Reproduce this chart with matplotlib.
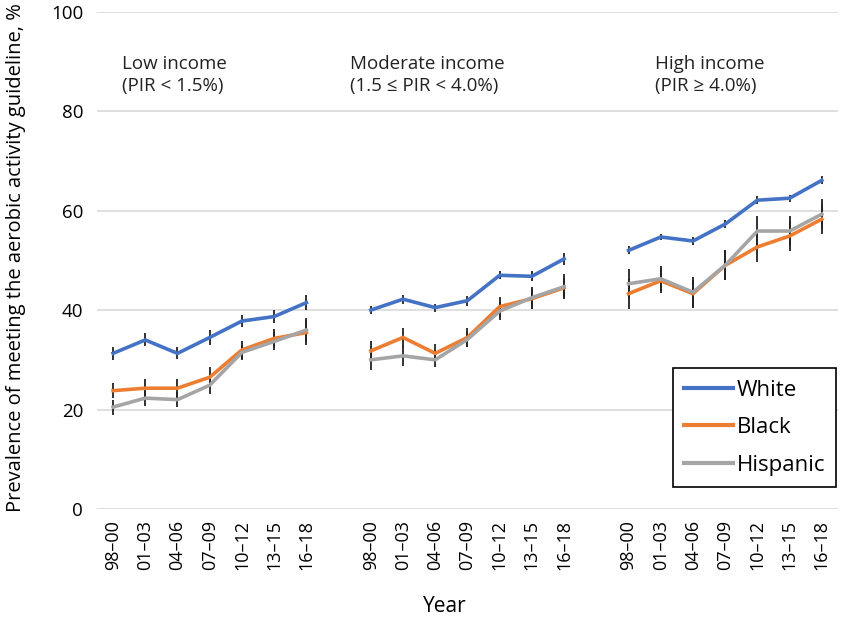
import numpy as np
import matplotlib
matplotlib.use("Agg")
import matplotlib.pyplot as plt

plt.rcParams['font.family'] = ['Open Sans', 'DejaVu Sans']

periods = ['98–00', '01–03', '04–06', '07–09', '10–12', '13–15', '16–18']
groups = ['Low income\n(PIR < 1.5%)', 'Moderate income\n(1.5 ≤ PIR < 4.0%)', 'High income\n(PIR ≥ 4.0%)']

# prevalence per income group (low, moderate, high)
white_low = [31.3, 34.0, 31.3, 34.5, 37.8, 38.7, 41.5]
white_mod = [40.0, 42.2, 40.5, 41.9, 47.0, 46.8, 50.3]
white_high = [52.0, 54.7, 53.9, 57.3, 62.1, 62.5, 66.1]
black_low = [23.8, 24.3, 24.3, 26.5, 32.0, 34.3, 35.5]
black_mod = [31.8, 34.5, 31.3, 34.5, 40.7, 42.3, 44.5]
black_high = [43.3, 45.9, 43.3, 49.0, 52.7, 54.9, 58.3]
hisp_low = [20.5, 22.3, 22.0, 24.9, 31.5, 33.7, 36.0]
hisp_mod = [30.0, 30.8, 30.0, 34.1, 39.8, 42.5, 44.7]
hisp_high = [45.3, 46.3, 43.6, 49.0, 55.9, 55.9, 59.3]

# half-widths of the error bars
white_low_err = [1.3, 1.3, 1.2, 1.5, 1.2, 1.3, 1.5]
white_mod_err = [0.8, 0.9, 0.8, 1.0, 0.8, 1.0, 1.2]
white_high_err = [0.8, 0.7, 0.8, 0.8, 0.8, 0.7, 0.8]
black_low_err = [1.5, 1.8, 1.8, 2.0, 1.8, 1.8, 2.5]
black_mod_err = [2.0, 2.0, 1.8, 2.0, 2.0, 2.0, 2.0]
black_high_err = [3.0, 2.5, 2.8, 3.0, 3.0, 3.0, 3.0]
hisp_low_err = [1.5, 1.5, 1.5, 1.8, 1.5, 1.8, 2.5]
hisp_mod_err = [2.0, 2.0, 1.5, 1.5, 1.8, 2.2, 2.5]
hisp_high_err = [3.0, 2.5, 3.0, 3.0, 3.0, 3.0, 3.0]

series = [
    ('White', '#4472C4', [white_low, white_mod, white_high], [white_low_err, white_mod_err, white_high_err]),
    ('Black', '#ED7D31', [black_low, black_mod, black_high], [black_low_err, black_mod_err, black_high_err]),
    ('Hispanic', '#A5A5A5', [hisp_low, hisp_mod, hisp_high], [hisp_low_err, hisp_mod_err, hisp_high_err]),
]

fig = plt.figure(figsize=(8.43, 6.17), dpi=100)
ax = fig.add_axes([0.115, 0.175, 0.879, 0.806])

n = len(periods)
xpos = [np.arange(n) + g * (n + 1) for g in range(3)]

for name, col, vals, errs in series:
    for g in range(3):
        ax.errorbar(xpos[g], vals[g], yerr=errs[g], fmt='none', ecolor='#222222',
                    elinewidth=1.3, capsize=0, zorder=2)
        ax.plot(xpos[g], vals[g], color=col, lw=2.6, solid_joinstyle='round',
                label=name if g == 0 else None, zorder=3)

ax.set_ylim(0, 100)
ax.set_yticks(range(0, 101, 20))
ax.set_xlim(-0.5, 3 * n + 1.5)
ax.set_xticks(np.concatenate(xpos))
ax.set_xticklabels(periods * 3, rotation=90, fontsize=13)
ax.tick_params(axis='both', length=0)
ax.tick_params(axis='x', pad=8)
ax.tick_params(axis='y', labelsize=13.5, pad=10)
ax.yaxis.grid(True, color='#D9D9D9', lw=1.2)
ax.set_axisbelow(True)
for s in ax.spines.values():
    s.set_visible(False)

# group captions
label_x = [0.28, 7.36, 16.83]
for g in range(3):
    ax.text(label_x[g], 87.3, groups[g], fontsize=13.5, va='center', ha='left',
            linespacing=1.3, color='#222222')

fig.text(0.528, 0.0, 'Year', fontsize=15, ha='center', va='bottom')
fig.text(0.019, 0.582, 'Prevalence of meeting the aerobic activity guideline, %',
         fontsize=14.5, rotation=90, ha='center', va='center')

leg = ax.legend(loc='lower right', bbox_to_anchor=(836 / 843, 1 - 487 / 617),
                bbox_transform=fig.transFigure, fontsize=16, frameon=True,
                fancybox=False, handlelength=2.2, handletextpad=0.15,
                labelspacing=0.75, borderpad=0.5, borderaxespad=0)
leg.get_frame().set_edgecolor('black')
leg.get_frame().set_linewidth(1.2)
leg.get_frame().set_alpha(1)
for line in leg.get_lines():
    line.set_linewidth(3)

fig.savefig('out.png', dpi=100)
